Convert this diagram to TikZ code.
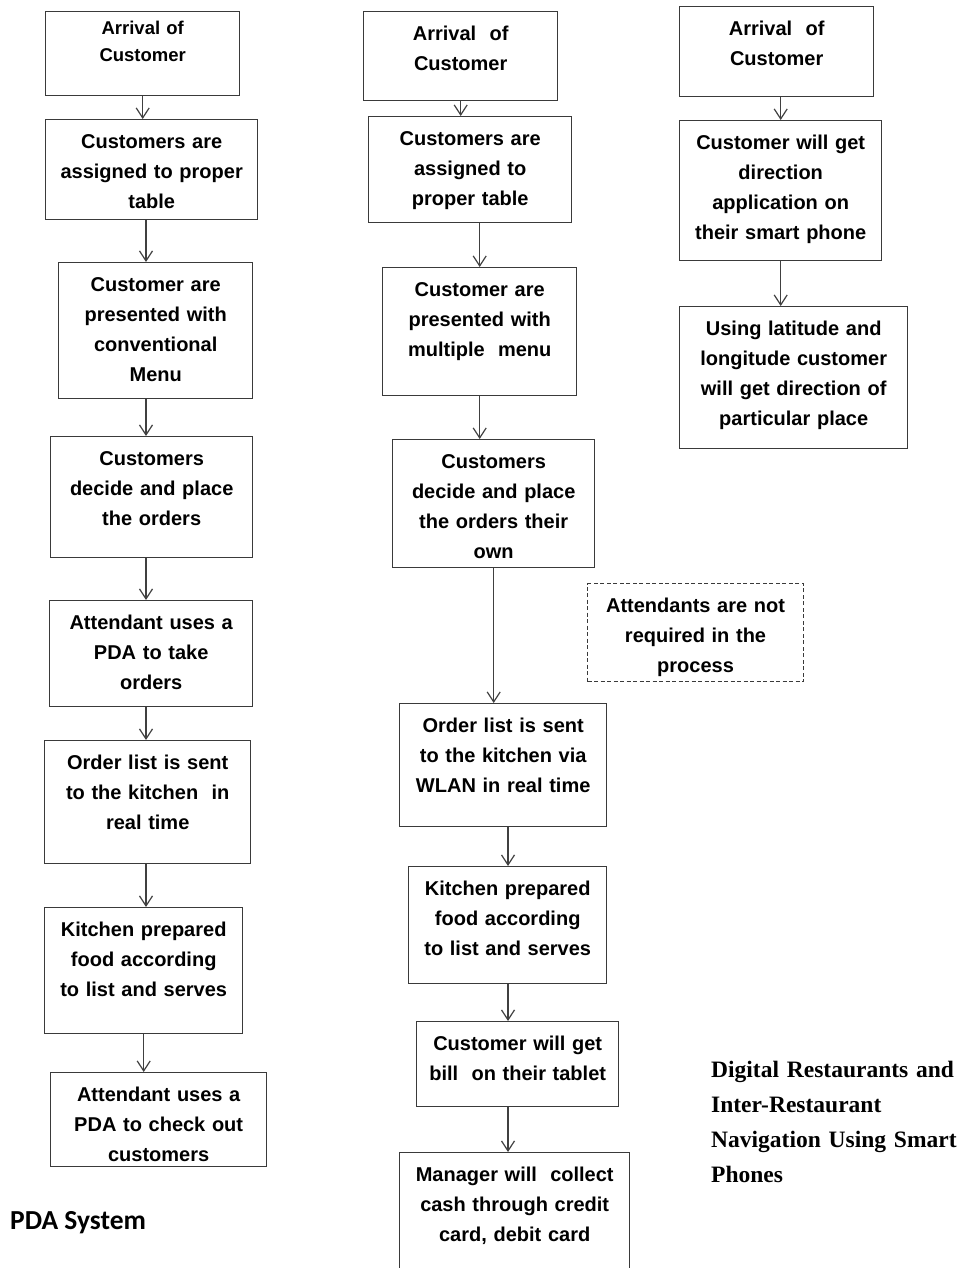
\documentclass[tikz,border=0pt]{standalone}
\usepackage{fontspec}
\setmainfont{Liberation Sans}
\newfontfamily\titlefont{Liberation Serif}
\newfontfamily\capfont{Carlito}
\usetikzlibrary{arrows.meta,positioning,calc}

\definecolor{boxgray}{HTML}{3A3A3A}
\definecolor{linegray}{HTML}{404040}

\tikzset{
  box/.style={draw=boxgray, line width=1.4pt, anchor=north west, inner xsep=0pt, inner ysep=6pt,
    align=center, text height=22.5pt, font=\bfseries\fontsize{20}{30}\selectfont},
  dashbox/.style={box, line width=1.1pt, dash pattern=on 4pt off 2.5pt},
  link/.style={->, draw=linegray, line width=1.2pt}
}

\begin{document}
\begin{tikzpicture}[x=1pt, y=-1pt, >={Straight Barb[length=10pt,width=13pt]}]
    \useasboundingbox (0,0) rectangle (959,1268);
    \clip (0,0) rectangle (959,1268);

    % PDA system
    \node[box, text width=194pt, text height=17pt, text depth=55pt, font=\bfseries\fontsize{18.5}{27}\selectfont] (b1) at (45,11) {Arrival of\\Customer};
    \node[box, text width=212pt, text depth=65.5pt] (b2) at (45,119) {Customers are\\assigned to proper\\table};
    \node[box, text width=194pt, text depth=101.5pt] (b3) at (58,262) {Customer are\\presented with\\conventional\\Menu};
    \node[box, text width=202pt, text depth=86.5pt] (b4) at (50,436) {Customers\\decide and place\\the orders};
    \node[box, text width=203pt, text depth=71.5pt] (b5) at (49,600) {Attendant uses a\\PDA to take\\orders};
    \node[box, text width=206pt, text depth=88.5pt] (b6) at (44,740) {Order list is sent\\to the kitchen~ in\\real time};
    \node[box, text width=198pt, text depth=91.5pt] (b7) at (44,907) {Kitchen prepared\\food according\\to list and serves};
    \node[box, text width=216pt, text depth=59.5pt] (b8) at (50,1072) {Attendant uses a\\PDA to check out\\customers};
    \node[anchor=base west, inner sep=0pt, font=\capfont\bfseries\fontsize{27.5}{30}\selectfont] (pda) at (10,1229) {PDA System};

    % digital restaurant
    \node[box, text width=194pt, text depth=54.5pt] (c1) at (363,11) {Arrival~ of\\Customer};
    \node[box, text width=203pt, text depth=71.5pt] (c2) at (368,116) {Customers are\\assigned to\\proper table};
    \node[box, text width=194pt, text depth=93.5pt] (c3) at (382,267) {Customer are\\presented with\\multiple~ menu};
    \node[box, text width=202pt, text depth=93.5pt] (c4) at (392,439) {Customers\\decide and place\\the orders their\\own};
    \node[box, text width=207pt, text depth=88.5pt] (c5) at (399,703) {Order list is sent\\to the kitchen via\\WLAN in real time};
    \node[box, text width=198pt, text depth=82.5pt] (c6) at (408,866) {Kitchen prepared\\food according\\to list and serves};
    \node[box, text width=202pt, text depth=50.5pt] (c7) at (416,1021) {Customer will get\\bill~ on their tablet};
    \node[box, text width=230pt, text depth=103.5pt] (c8) at (399,1152) {Manager will~ collect\\cash through credit\\card, debit card};
    \node[dashbox, text width=216pt, text depth=63.5pt] (e1) at (587,583) {Attendants are not\\required in the\\process};

    % navigation
    \node[box, text width=194pt, text depth=55.5pt] (d1) at (679,6) {Arrival~ of\\Customer};
    \node[box, text width=202pt, text depth=105.5pt] (d2) at (679,120) {Customer will get\\direction\\application on\\their smart phone};
    \node[box, text width=228pt, text depth=107.5pt] (d3) at (679,306) {Using latitude and\\longitude customer\\will get direction of\\particular place};

    \node[anchor=base west, inner sep=0pt, text width=300pt, align=left, font=\titlefont\bfseries\fontsize{23.5}{35}\selectfont] (title) at (711,1077) {Digital Restaurants and\\Inter-Restaurant\\Navigation Using Smart\\Phones};

    \coordinate (ax1) at (146,0);
    \coordinate (ax2) at (508,0);

    \draw[link] (b1.south) to (b1.south |- b2.north);
    \draw[link] (b2.south -| ax1) to (b3.north -| ax1);
    \draw[link] (b3.south -| ax1) to (b4.north -| ax1);
    \draw[link] (b4.south -| ax1) to (b5.north -| ax1);
    \draw[link] (b5.south -| ax1) to (b6.north -| ax1);
    \draw[link] (b6.south -| ax1) to (b7.north -| ax1);
    \draw[link] (b7.south) to (b7.south |- b8.north);

    \draw[link] (c1.south) to (c1.south |- c2.north);
    \draw[link] (c3.north |- c2.south) to (c3.north);
    \draw[link] (c3.south) to (c3.south |- c4.north);
    \draw[link] (c4.south) to (c4.south |- c5.north);
    \draw[link] (c5.south -| ax2) to (c6.north -| ax2);
    \draw[link] (c6.south -| ax2) to (c7.north -| ax2);
    \draw[link] (c7.south -| ax2) to (c8.north -| ax2);

    \draw[link] (d2.north |- d1.south) to (d2.north);
    \draw[link] (d2.south) to (d2.south |- d3.north);
\end{tikzpicture}
\end{document}
